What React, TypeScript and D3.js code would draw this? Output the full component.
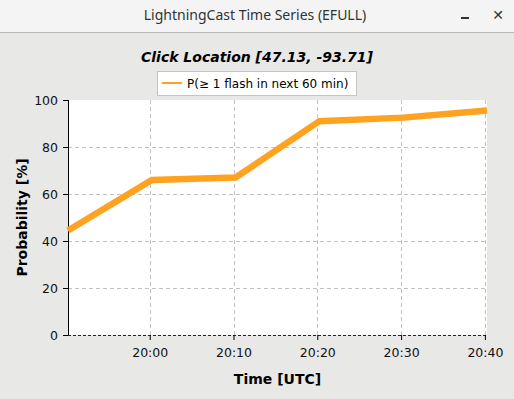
import { useEffect, useRef } from "react";
import * as d3 from "d3";

// sample times (UTC) and probability values
const times = [
  "2023-06-01T19:50:15Z",
  "2023-06-01T20:00:15Z",
  "2023-06-01T20:10:15Z",
  "2023-06-01T20:20:15Z",
  "2023-06-01T20:30:15Z",
  "2023-06-01T20:40:15Z",
];
const probs = [44.5, 66, 67, 91, 92.5, 95.5];
const xTicks = [
  "2023-06-01T20:00:00Z",
  "2023-06-01T20:10:00Z",
  "2023-06-01T20:20:00Z",
  "2023-06-01T20:30:00Z",
  "2023-06-01T20:40:00Z",
];
const yTicks = [0, 20, 40, 60, 80, 100];
const seriesName = "P(\u2265 1 flash in next 60 min)";

const W = 514;
const H = 399;
const FONT = "'DejaVu Sans', sans-serif";

export default function App() {
  const svgRef = useRef<SVGSVGElement>(null);

  useEffect(() => {
    const svg = d3.select(svgRef.current).attr("width", W).attr("height", H);
    svg.selectAll("*").remove();

    const left = 68;
    const right = 487;
    const top = 100;
    const bottom = 335;

    const dates = times.map((t) => new Date(t));
    const x = d3
      .scaleUtc()
      .domain(d3.extent(dates) as [Date, Date])
      .range([left, right]);
    const y = d3.scaleLinear().domain([0, 100]).range([bottom, top]);

    // window background + title bar
    svg.append("rect").attr("width", W).attr("height", H).attr("fill", "#e8e8e7");
    svg.append("rect").attr("width", W).attr("height", 32).attr("fill", "#f4f4f4");
    svg
      .append("line")
      .attr("x1", 0)
      .attr("x2", W)
      .attr("y1", 32.5)
      .attr("y2", 32.5)
      .attr("stroke", "#b8b8b8");
    svg
      .append("text")
      .attr("x", 255)
      .attr("y", 20)
      .attr("text-anchor", "middle")
      .attr("font-family", "'Noto Sans', sans-serif")
      .attr("font-size", 14)
      .attr("fill", "#2e3436")
      .text("LightningCast Time Series (EFULL)");
    svg
      .append("rect")
      .attr("x", 461)
      .attr("y", 17)
      .attr("width", 8)
      .attr("height", 2)
      .attr("fill", "#2e3436");
    svg
      .append("text")
      .attr("x", 498)
      .attr("y", 20)
      .attr("text-anchor", "middle")
      .attr("font-family", FONT)
      .attr("font-weight", "bold")
      .attr("font-size", 14)
      .attr("fill", "#2e3436")
      .text("\u2715");

    // plot area
    svg
      .append("rect")
      .attr("x", left)
      .attr("y", top)
      .attr("width", right - left)
      .attr("height", bottom - top)
      .attr("fill", "#ffffff");

    const xt = xTicks.map((t) => new Date(t));
    const grid = svg.append("g").attr("stroke", "#c2c2c2").attr("stroke-dasharray", "4,3");
    grid
      .selectAll("line.v")
      .data(xt)
      .join("line")
      .attr("x1", (d) => Math.round(x(d)) + 0.5)
      .attr("x2", (d) => Math.round(x(d)) + 0.5)
      .attr("y1", top)
      .attr("y2", bottom);
    grid
      .selectAll("line.h")
      .data(yTicks.filter((v) => v > 0 && v < 100))
      .join("line")
      .attr("x1", left)
      .attr("x2", right)
      .attr("y1", (d) => Math.round(y(d)) + 0.5)
      .attr("y2", (d) => Math.round(y(d)) + 0.5);

    // bottom axis
    const xAxis = d3
      .axisBottom(x)
      .tickValues(xt)
      .tickFormat((d) => d3.utcFormat("%H:%M")(d as Date))
      .tickSize(5)
      .tickPadding(8);
    const gx = svg.append("g").attr("transform", `translate(0,${bottom})`).call(xAxis);
    gx.select(".domain")
      .attr("d", `M${left},0.5H${right}`)
      .attr("stroke", "#222")
      .attr("stroke-dasharray", "3,2");
    gx.selectAll("text").attr("font-family", FONT).attr("font-size", 12.5).attr("fill", "#111");

    // left axis
    const yAxis = d3.axisLeft(y).tickValues(yTicks).tickSize(5).tickPadding(5);
    const gy = svg.append("g").attr("transform", `translate(${left},0)`).call(yAxis);
    gy.select(".domain").attr("d", `M0.5,${top}V${bottom}`).attr("stroke", "#000");
    gy.selectAll("text").attr("font-family", FONT).attr("font-size", 12.5).attr("fill", "#111");

    // series line
    const line = d3
      .line<number>()
      .x((_, i) => x(dates[i]))
      .y((d) => y(d));
    svg
      .append("path")
      .datum(probs)
      .attr("d", line)
      .attr("fill", "none")
      .attr("stroke", "#ffa220")
      .attr("stroke-width", 6.5);

    // titles
    svg
      .append("text")
      .attr("x", 257)
      .attr("y", 62)
      .attr("text-anchor", "middle")
      .attr("font-family", FONT)
      .attr("font-size", 14)
      .attr("font-weight", "bold")
      .attr("font-style", "italic")
      .text("Click Location [47.13, -93.71]");
    svg
      .append("text")
      .attr("x", (left + right) / 2)
      .attr("y", 384)
      .attr("text-anchor", "middle")
      .attr("font-family", FONT)
      .attr("font-size", 14)
      .attr("font-weight", "bold")
      .text("Time [UTC]");
    svg
      .append("text")
      .attr("transform", `translate(27,${(top + bottom) / 2}) rotate(-90)`)
      .attr("text-anchor", "middle")
      .attr("font-family", FONT)
      .attr("font-size", 14)
      .attr("font-weight", "bold")
      .text("Probability [%]");

    // legend
    const lg = svg.append("g");
    lg.append("rect")
      .attr("x", 157.5)
      .attr("y", 71.5)
      .attr("width", 199)
      .attr("height", 24)
      .attr("fill", "#fff")
      .attr("stroke", "#c4c4c4");
    lg.append("line")
      .attr("x1", 162)
      .attr("x2", 182)
      .attr("y1", 83)
      .attr("y2", 83)
      .attr("stroke", "#ffa220")
      .attr("stroke-width", 2);
    lg.append("text")
      .attr("x", 187)
      .attr("y", 88)
      .attr("font-family", FONT)
      .attr("font-size", 12)
      .text(seriesName);
  }, []);

  return (
    <div style={{ position: "absolute", left: 0, top: 0 }}>
      <svg ref={svgRef} style={{ display: "block" }} />
    </div>
  );
}
